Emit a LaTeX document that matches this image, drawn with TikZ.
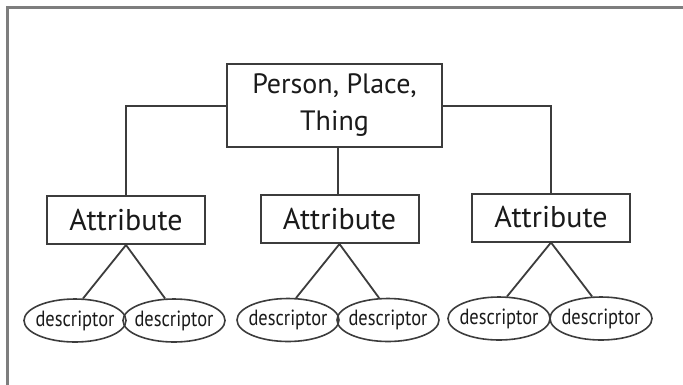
\documentclass[tikz,border=0pt]{standalone}
\usepackage{fontspec}
\setmainfont{PT Sans}
\usetikzlibrary{shapes.geometric}
\definecolor{lineC}{HTML}{3C3C3C}
\definecolor{frameC}{HTML}{7E7E7E}
\definecolor{textC}{HTML}{1A1A1A}
\newcommand{\desctext}{\makebox[0pt]{\scalebox{0.84}[1]{descriptor}}}
\begin{document}
\begin{tikzpicture}[x=1pt,y=-1pt,
  topbox/.style={draw=lineC,line width=2pt,minimum width=215pt,minimum height=83pt,inner sep=0pt,align=center,text=textC,font=\fontsize{28}{37}\selectfont},
  attrbox/.style={draw=lineC,line width=2pt,minimum width=158pt,minimum height=48pt,inner sep=0pt,text=textC,font=\fontsize{30}{34}\selectfont},
  desc/.style={draw=lineC,line width=1.6pt,ellipse,minimum width=102pt,minimum height=43pt,inner sep=0pt,text=textC,font=\fontsize{22}{26}\selectfont},
  conn/.style={draw=lineC,line width=2pt},
  dconn/.style={draw=lineC,line width=1.8pt}]
\useasboundingbox (0,0) rectangle (683,384);
\fill[white] (0,0) rectangle (683,384);
\draw[frameC,line width=3pt] (7.5,390) -- (7.5,7.5) -- (690,7.5);
\node[topbox] (top) at (334.5,105.5) {Person, Place,\\Thing};
\node[attrbox] (a1) at (126,220) {Attribute};
\node[attrbox] (a2) at (339.5,219) {Attribute};
\node[attrbox] (a3) at (551,217.5) {Attribute};
\node[desc] (d1) at (75,320.5) {\desctext};
\node[desc] (d2) at (174,320.5) {\desctext};
\node[desc] (d3) at (288,320) {\desctext};
\node[desc] (d4) at (388,320) {\desctext};
\node[desc] (d5) at (499,318.5) {\desctext};
\node[desc] (d6) at (601,318.5) {\desctext};
\draw[conn] (top.west) -| (a1.north);
\draw[conn] (top.east) -| (a3.north);
\draw[conn] ([xshift=-1.5pt]a2.north) -- ([xshift=-1.5pt]a2.north |- top.south);
\draw[dconn] (d1.70) -- (a1.south) -- (d2.112);
\draw[dconn] (d3.70) -- (a2.south) -- (d4.112);
\draw[dconn] (d5.70) -- (a3.south) -- (d6.112);
\end{tikzpicture}
\end{document}
